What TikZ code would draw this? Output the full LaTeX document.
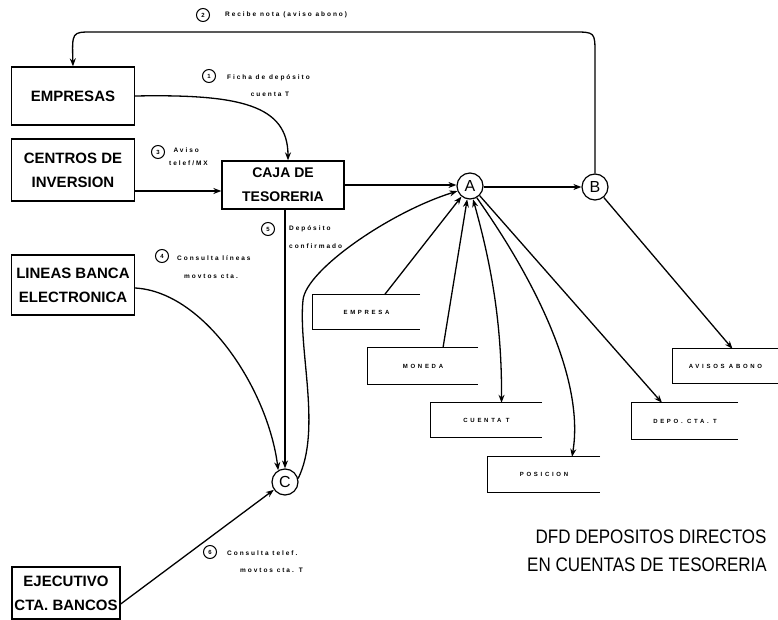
\documentclass[tikz,border=0pt]{standalone}
\usepackage{fontspec}
\setmainfont{Liberation Sans}
\newfontfamily\tagfont[LetterSpace=30]{Liberation Sans}
\newfontfamily\storefont[LetterSpace=45]{Liberation Sans}
\usetikzlibrary{arrows.meta}

\tikzset{
  flow/.style={line width=1.3pt, -{Stealth[length=8pt,width=6pt]}},
  entity/.style={draw, line width=1.3pt, minimum width=123pt, minimum height=58pt,
    align=center, inner sep=0pt, font=\bfseries\fontsize{15}{24}\selectfont},
  procnode/.style={draw, circle, line width=1.2pt, minimum size=26pt, inner sep=0pt,
    font=\fontsize{16}{16}\selectfont},
  store/.style={inner sep=0pt, font=\storefont\bfseries\fontsize{6}{7}\selectfont},
  storeline/.style={line width=1.2pt},
  tagnum/.style={draw, circle, line width=1pt, minimum size=13pt, inner sep=0pt,
    font=\bfseries\fontsize{6}{6}\selectfont},
  tagtxt/.style={inner sep=0pt, font=\tagfont\bfseries\fontsize{6.5}{7}\selectfont},
  titletxt/.style={inner sep=0pt, font=\fontsize{17}{20}\selectfont}
}

\begin{document}
\begin{tikzpicture}[x=1pt,y=-1pt]
\useasboundingbox (0,0) rectangle (778,620);

% external entities
\node[entity] (emp) at (73,96) {EMPRESAS};
\node[entity, minimum height=62pt] (cen) at (73,170) {CENTROS DE\\INVERSION};
\node[entity, minimum width=122pt, minimum height=48pt, font=\bfseries\fontsize{14}{24}\selectfont] (caja) at (283,185) {CAJA DE\\TESORERIA};
\node[entity, minimum height=60pt] (lin) at (73,285) {LINEAS BANCA\\ELECTRONICA};
\node[entity, minimum width=108pt, minimum height=52pt] (eje) at (66,593) {EJECUTIVO\\CTA. BANCOS};

% processes
\node[procnode] (A) at (470,186) {A};
\node[procnode] (B) at (595,187) {B};
\node[procnode] (C) at (285,482) {C};

% data stores (open on the right)
\node[store, minimum width=107pt, minimum height=34pt] (se) at (366.5,312) {EMPRESA};
\node[store, minimum width=110pt, minimum height=36pt] (sm) at (423,366) {MONEDA};
\node[store, minimum width=111pt, minimum height=34pt] (sc) at (486.5,420) {CUENTA T};
\node[store, minimum width=112pt, minimum height=35pt] (sp) at (544,474.5) {POSICION};
\node[store, minimum width=105pt, minimum height=34pt] (sa) at (725.5,366) {AVISOS ABONO};
\node[store, minimum width=106pt, minimum height=36pt] (sd) at (685,421) {DEPO. CTA. T};
\foreach \s in {se,sm,sc,sp,sa,sd}
  \draw[storeline] (\s.north east) -- (\s.north west) -- (\s.south west) -- (\s.south east);

% flows between entities and processes
\draw[flow] (caja.east) -- (caja.east -| A.west);
\draw[flow] (A.east |- B.west) -- (B.west);
\draw[flow] (B.north) -- (595,54) .. controls (595,32) .. (573,32) -- (92,32)
  .. controls (72,32) .. (emp.north);
\draw[flow] (emp.east) .. controls (240,94) and (288,105) .. ([xshift=5pt]caja.north);
\draw[flow] (cen.east |- 0,191) -- (caja.west |- 0,191);
\draw[flow] (caja.south -| C.north) -- (C.north);
\draw[flow] ([yshift=-3pt]lin.east) .. controls (205,292) and (268,390) .. (C.120);
\draw[flow] ([yshift=-11pt]eje.east) -- (C.215);
\draw[flow] (C.15) .. controls (322,430) and (298,350) .. (303,300)
  .. controls (306,270) and (390,212) .. (A.202);

% flows between processes and data stores
\draw[flow] ([xshift=18pt]se.north) -- (A.231);
\draw[flow] ([xshift=20pt]sm.north) -- (A.258);
\draw[flow, {Stealth[length=8pt,width=6pt]}-{Stealth[length=8pt,width=6pt]}]
  (A.-77) .. controls (490,260) and (502,320) .. ([xshift=15pt]sc.north);
\draw[flow] (A.-60) .. controls (535,280) and (585,380) .. ([xshift=28pt]sp.north);
\draw[flow] (A.-45) -- ([xshift=-23pt]sd.north);
\draw[flow] (B.-50) -- ([xshift=7pt]sa.north);

% numbered flow labels
\node[tagnum] (n2) at (203,15) {2};
\node[tagtxt, anchor=west] (t2) at (225,15) {Recibe nota (aviso abono)};

\node[tagnum] (n1) at (209,76) {1};
\node[tagtxt, anchor=west] (t1a) at (227,78) {Ficha de depósito};
\node[tagtxt] (t1b) at (270,94) {cuenta T};

\node[tagnum] (n3) at (158,152) {3};
\node[tagtxt, anchor=east] (t3a) at (199,150) {Aviso};
\node[tagtxt, anchor=east] (t3b) at (208,163) {telef/MX};

\node[tagnum] (n5) at (268,229) {5};
\node[tagtxt, anchor=west] (t5a) at (289,229) {Depósito};
\node[tagtxt, anchor=west] (t5b) at (289,246) {confirmado};

\node[tagnum] (n4) at (162,256) {4};
\node[tagtxt, anchor=west] (t4a) at (177,258) {Consulta líneas};
\node[tagtxt, anchor=west] (t4b) at (184,276) {movtos cta.};

\node[tagnum] (n6) at (210,552) {6};
\node[tagtxt, anchor=west] (t6a) at (227,553) {Consulta telef.};
\node[tagtxt, anchor=west] (t6b) at (240,570) {movtos cta. T};

% title
\node[titletxt] (ti1) at (651,537) {\scalebox{1}[1.15]{DFD DEPOSITOS DIRECTOS}};
\node[titletxt] (ti2) at (647,565) {\scalebox{1}[1.15]{EN CUENTAS DE TESORERIA}};
\end{tikzpicture}
\end{document}
